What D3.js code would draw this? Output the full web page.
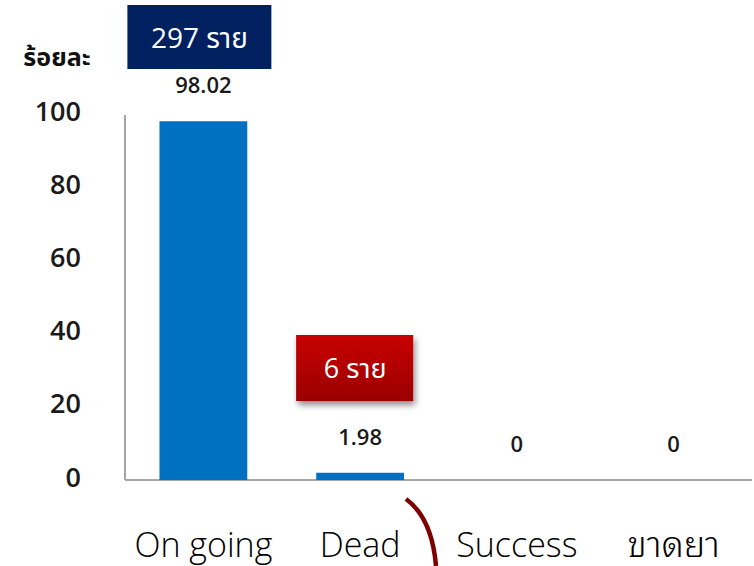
<!DOCTYPE html>
<html><head><meta charset="utf-8">
<script src="https://cdn.jsdelivr.net/npm/d3@7"></script>
<style>
body{margin:0;background:#fff;}
svg{display:block;font-family:"Open Sans","Noto Sans","Noto Sans Thai","Noto Sans Thai UI",sans-serif;}
</style></head>
<body>
<svg id="c" width="754" height="566"></svg>
<script>
const categories = ["On going","Dead","Success","ขาดยา"];
const values = [98.02, 1.98, 0, 0];
const valueLabels = ["98.02","1.98","0","0"];
const yTicks = [0,20,40,60,80,100];
const callouts = [{cat:"On going", text:"297 ราย"},{cat:"Dead", text:"6 ราย"}];

(function(){
const svg = d3.select("#c");
const defs = svg.append("defs");
const g1 = defs.append("linearGradient").attr("id","redg").attr("x1",0).attr("x2",0).attr("y1",0).attr("y2",1);
g1.append("stop").attr("offset","0%").attr("stop-color","#c80000");
g1.append("stop").attr("offset","100%").attr("stop-color","#9a0000");
const f = defs.append("filter").attr("id","sh").attr("x","-20%").attr("y","-20%").attr("width","150%").attr("height","160%");
f.append("feDropShadow").attr("dx",2).attr("dy",4).attr("stdDeviation",3).attr("flood-color","#000").attr("flood-opacity",0.45);

const pl=125, pr=752, pt=114, pb=480;
const x = d3.scaleBand().domain(categories).range([pl,pr]).paddingInner(0.44).paddingOuter(0.22);
const y = d3.scaleLinear().domain([0,100]).range([pb,pt]);

svg.append("line").attr("x1",pl).attr("x2",pl).attr("y1",y(100)+1).attr("y2",pb)
  .attr("stroke","#a6a6a6").attr("stroke-width",2);
svg.append("line").attr("x1",pl).attr("x2",pr).attr("y1",pb).attr("y2",pb)
  .attr("stroke","#a6a6a6").attr("stroke-width",2);

svg.append("g").selectAll("text").data(yTicks).join("text")
  .attr("x",81).attr("y",d=>y(d)-4).attr("text-anchor","end").attr("dominant-baseline","central")
  .attr("font-size",27).attr("font-weight",600).attr("fill","#1a1a1a").text(d=>d);

svg.append("text").attr("x",57).attr("y",66).attr("text-anchor","middle")
  .attr("font-size",25).attr("font-weight",700).attr("fill","#111").text("ร้อยละ");

svg.append("g").selectAll("rect").data(values).join("rect")
  .attr("x",(d,i)=>x(categories[i])).attr("width",x.bandwidth())
  .attr("y",d=>y(d)).attr("height",d=>pb-y(d)).attr("fill","#0070c0");

svg.append("g").selectAll("text").data(values).join("text")
  .attr("x",(d,i)=>x(categories[i])+x.bandwidth()/2).attr("y",d=>y(d)-37)
  .attr("text-anchor","middle").attr("dominant-baseline","central")
  .attr("font-size",22).attr("font-weight",600).attr("fill","#1a1a1a").text((d,i)=>valueLabels[i]);

svg.append("g").selectAll("text").data(categories).join("text")
  .attr("x",d=>x(d)+x.bandwidth()/2).attr("y",(d,i)=>i===3?541:544).attr("text-anchor","middle")
  .attr("dominant-baseline","central").attr("font-size",(d,i)=>i===3?36:34)
  .attr("font-family",(d,i)=>i===3?"'Noto Sans Thai Looped','Loma','Garuda','Noto Sans Thai',sans-serif":null)
  .attr("font-weight",300).attr("fill","#000").text(d=>d);

const c0 = callouts[0];
const cx0 = x(c0.cat)+x.bandwidth()/2;
svg.append("rect").attr("x",cx0-76).attr("y",5).attr("width",144).attr("height",64).attr("fill","#002060");
svg.append("text").attr("x",cx0-4).attr("y",37).attr("text-anchor","middle").attr("dominant-baseline","central")
  .attr("font-size",28).attr("font-weight",400).attr("fill","#fff").text(c0.text);

const c1 = callouts[1];
const cx1 = x(c1.cat)+x.bandwidth()/2;
svg.append("rect").attr("x",cx1-64).attr("y",335).attr("width",117).attr("height",66)
  .attr("fill","url(#redg)").attr("filter","url(#sh)");
svg.append("text").attr("x",cx1-5).attr("y",367).attr("text-anchor","middle").attr("dominant-baseline","central")
  .attr("font-size",27).attr("font-weight",400).attr("fill","#fff").text(c1.text);

svg.append("path").attr("d","M406,499 Q432,518 436,566").attr("fill","none")
  .attr("stroke","#7f0000").attr("stroke-width",4.5);
})();
</script>
</body></html>
